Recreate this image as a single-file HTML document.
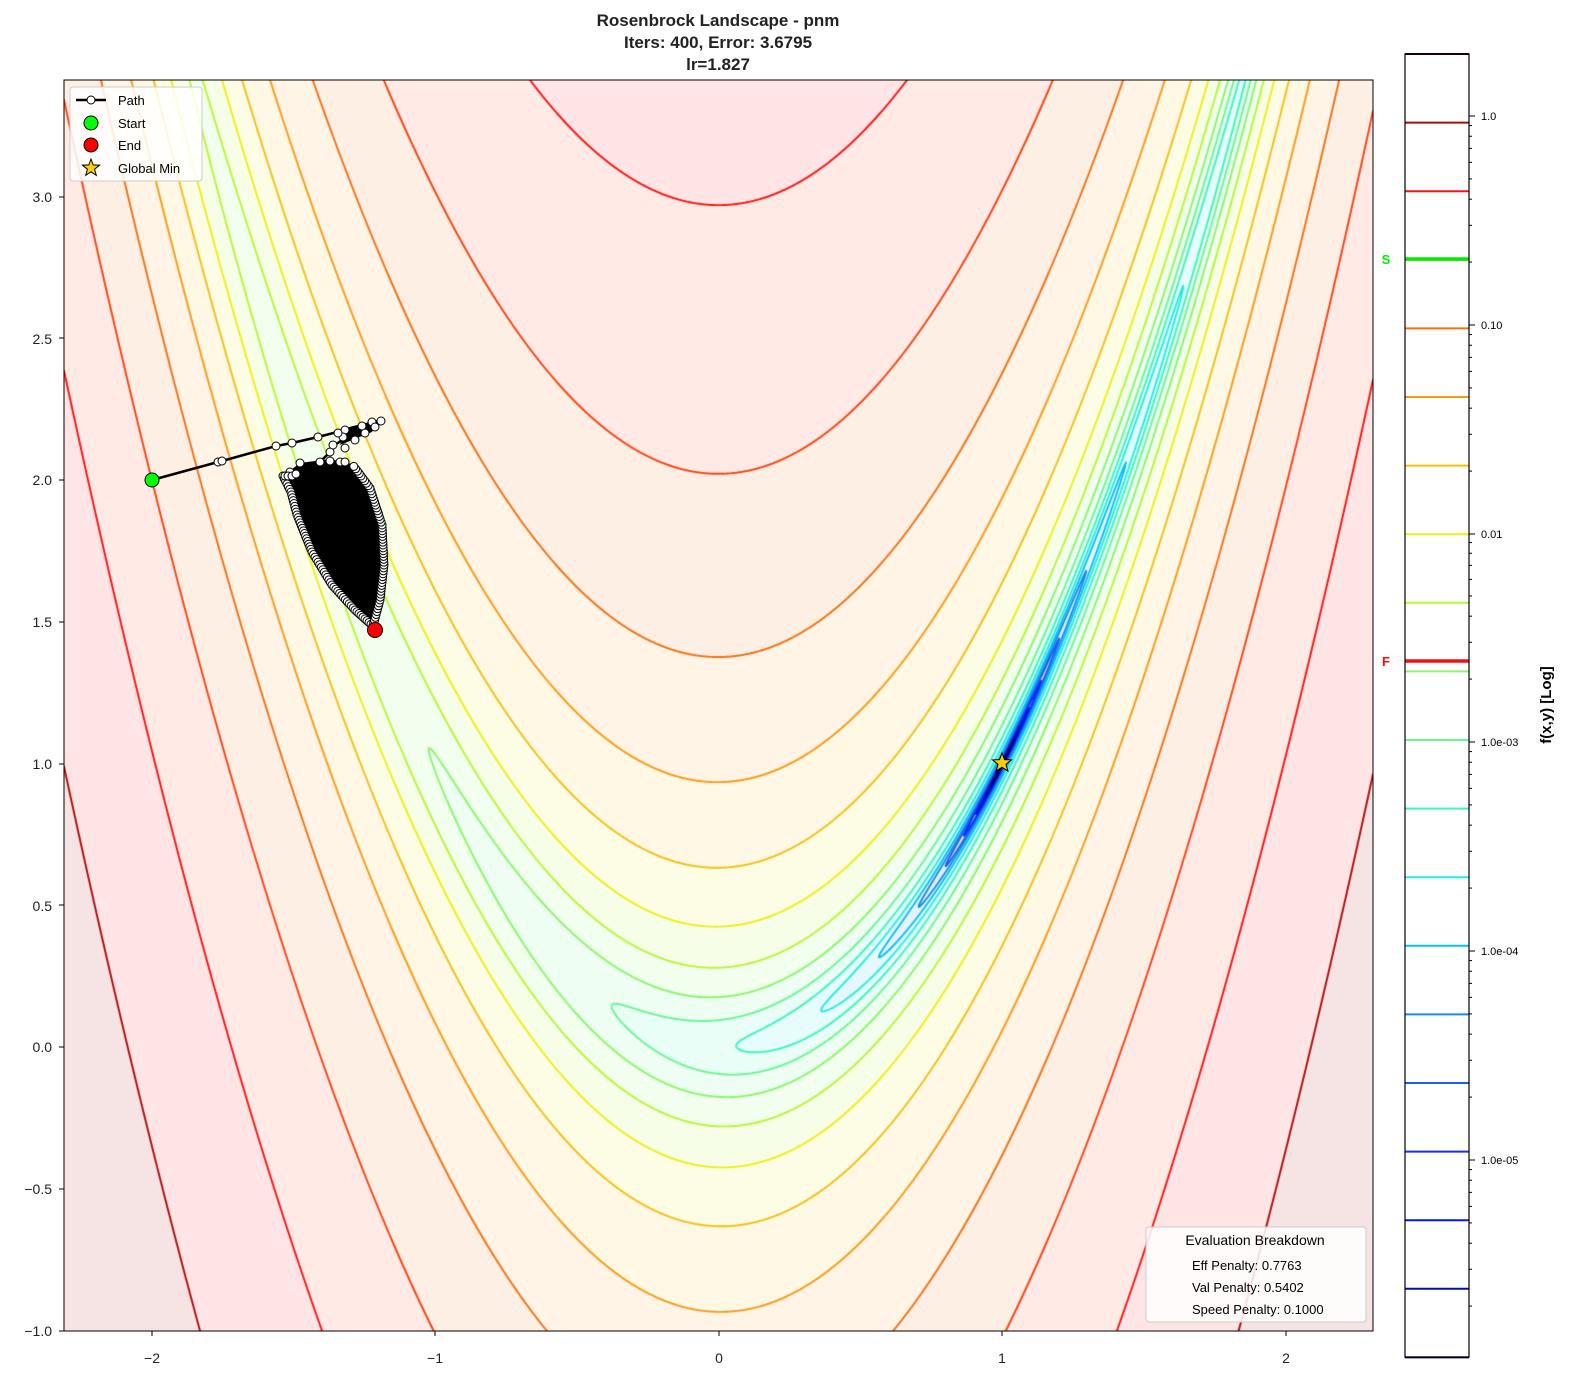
<!DOCTYPE html>
<html><head><meta charset="utf-8">
<style>
body{margin:0;background:#fff;width:1582px;height:1384px;overflow:hidden;position:relative;font-family:"Liberation Sans",sans-serif;}
#cv{position:absolute;left:64px;top:80px;}
svg{position:absolute;left:0;top:0;}
</style></head><body>
<canvas id="cv" width="1309" height="1251"></canvas>
<svg width="1582" height="1384" xmlns="http://www.w3.org/2000/svg" font-family="Liberation Sans, sans-serif">
<g font-weight="bold" font-size="17" fill="#222" text-anchor="middle">
<text x="718" y="26">Rosenbrock Landscape - pnm</text>
<text x="718" y="48">Iters: 400, Error: 3.6795</text>
<text x="718" y="70">lr=1.827</text>
</g>
<polyline points="152,480 218,462 222,461 276,446 292,443 318,437 345,430 365,425 372,422 381,421 362,430 345,438 335,445 330,452 322,460" fill="none" stroke="#000" stroke-width="2.5"/>
<path d="M283,476 L300,463 L330,459 L352,464 L370,488 L382,525 L384,565 L380,600 L376,628 L355,610 L332,585 L312,552 L297,515 L291,492 Z" fill="#000"/>
<path d="M345,428 L378,420 L372,432 L340,445 Z" fill="#000"/>
<g id="dots" fill="#fff" stroke="#000" stroke-width="1"></g>
<circle cx="152" cy="480" r="7" fill="#00ff00" stroke="#000" stroke-width="1"/>
<circle cx="375" cy="630" r="7.5" fill="#ff0000" stroke="#000" stroke-width="1"/>
<polygon id="star" fill="#ffcc00" stroke="#000" stroke-width="1"/>
<rect x="64" y="80" width="1309" height="1251" fill="none" stroke="#000" stroke-width="1"/>
<g id="ticks" stroke="#000" stroke-width="1"></g>
<g font-size="14" fill="#222" text-anchor="middle">
<text x="152" y="1363">−2</text><text x="435" y="1363">−1</text><text x="719" y="1363">0</text><text x="1002" y="1363">1</text><text x="1286" y="1363">2</text>
</g>
<g font-size="14" fill="#222" text-anchor="end">
<text x="52" y="202">3.0</text><text x="52" y="344">2.5</text><text x="52" y="485">2.0</text><text x="52" y="627">1.5</text><text x="52" y="769">1.0</text><text x="52" y="911">0.5</text><text x="52" y="1052">0.0</text><text x="52" y="1194">−0.5</text><text x="52" y="1336">−1.0</text>
</g>
<rect x="70" y="87" width="132" height="94" rx="3" fill="#fff" fill-opacity="0.85" stroke="#ccc"/>
<line x1="76" y1="100" x2="106" y2="100" stroke="#000" stroke-width="2.5"/>
<circle cx="91" cy="100" r="4" fill="#fff" stroke="#000"/>
<circle cx="91" cy="123" r="7" fill="#00ff00" stroke="#000"/>
<circle cx="91" cy="145" r="7" fill="#ff0000" stroke="#000"/>
<polygon id="lstar" fill="#ffcc00" stroke="#000" stroke-width="1"/>
<g font-size="13" fill="#000"><text x="118" y="105">Path</text><text x="118" y="128">Start</text><text x="118" y="150">End</text><text x="118" y="173">Global Min</text></g>
<rect x="1146" y="1227" width="220" height="95" rx="3" fill="#fff" fill-opacity="0.85" stroke="#ccc"/>
<text x="1255" y="1245" font-size="14" text-anchor="middle" fill="#000">Evaluation Breakdown</text>
<g font-size="13" fill="#000"><text x="1192" y="1270">Eff Penalty: 0.7763</text><text x="1192" y="1292">Val Penalty: 0.5402</text><text x="1192" y="1314">Speed Penalty: 0.1000</text></g>
<g id="cb"></g>
<rect x="1405" y="54" width="64" height="1303" fill="none" stroke="#000" stroke-width="1.2"/>
<g font-size="11" fill="#000">
<text x="1481" y="120">1.0</text><text x="1481" y="329">0.10</text><text x="1481" y="538">0.01</text><text x="1481" y="746">1.0e-03</text><text x="1481" y="955">1.0e-04</text><text x="1481" y="1164">1.0e-05</text>
</g>
<text x="1386" y="264" font-size="13" font-weight="bold" fill="#00ee00" text-anchor="middle">S</text>
<text x="1386" y="666" font-size="13" font-weight="bold" fill="#ee1111" text-anchor="middle">F</text>
<text transform="translate(1551,705) rotate(-90)" font-size="15" font-weight="bold" text-anchor="middle" fill="#000">f(x,y) [Log]</text>
</svg>
<script>
var cols=["#3a0000","#b00a0a","#ff1010","#ff4010","#f57010","#fc9a10","#f5c010","#eef010","#b8f830","#88f868","#68f890","#38f8b8","#20f0e0","#08c0f8","#1090f0","#1860f0","#1030ff","#0018e0","#0010b0","#000070"];
function rgb(h){return [parseInt(h.substr(1,2),16),parseInt(h.substr(3,2),16),parseInt(h.substr(5,2),16)];}
var L0=Math.log10(1902)+1/3;
var W=1309,H=1251;
function fx(px){return (px+64-719)/283.5;}
function fy(py){return (1047-(py+80))/283.5;}
var cv=document.getElementById('cv'),ctx=cv.getContext('2d');
var nx=W+1,ny=H+1,g=new Float32Array(nx*ny);
for(var j=0;j<ny;j++){var y=fy(j);for(var i=0;i<nx;i++){var x=fx(i);var f=(1-x)*(1-x)+100*(y-x*x)*(y-x*x);g[j*nx+i]=Math.log10(f+1e-9);}}
var img=ctx.createImageData(W,H),d=img.data;
var crgb=cols.map(rgb);
for(var j=0;j<H;j++)for(var i=0;i<W;i++){var v=g[j*nx+i];var k=Math.floor((L0-v)*3)+1;if(k<0)k=0;if(k>19)k=19;var c=crgb[k];var a=0.11;var p=(j*W+i)*4;d[p]=255*(1-a)+c[0]*a;d[p+1]=255*(1-a)+c[1]*a;d[p+2]=255*(1-a)+c[2]*a;d[p+3]=255;}
ctx.putImageData(img,0,0);
ctx.lineWidth=1.9;ctx.lineJoin='round';ctx.lineCap='round';
for(var k=0;k<20;k++){
var lv=L0-k/3;ctx.strokeStyle=cols[k];ctx.beginPath();
for(var j=0;j<ny-1;j++)for(var i=0;i<nx-1;i++){
var a=g[j*nx+i],b=g[j*nx+i+1],c=g[(j+1)*nx+i+1],e=g[(j+1)*nx+i];
var idx=(a>lv?1:0)|(b>lv?2:0)|(c>lv?4:0)|(e>lv?8:0);
if(idx==0||idx==15)continue;
var pts=[];
if((a>lv)!=(b>lv))pts.push([i+(lv-a)/(b-a),j]);
if((b>lv)!=(c>lv))pts.push([i+1,j+(lv-b)/(c-b)]);
if((e>lv)!=(c>lv))pts.push([i+(lv-e)/(c-e),j+1]);
if((a>lv)!=(e>lv))pts.push([i,j+(lv-a)/(e-a)]);
ctx.moveTo(pts[0][0],pts[0][1]);ctx.lineTo(pts[1][0],pts[1][1]);
if(pts.length==4){ctx.moveTo(pts[2][0],pts[2][1]);ctx.lineTo(pts[3][0],pts[3][1]);}
}
ctx.stroke();}
var NS="http://www.w3.org/2000/svg";
function el(t,at,par){var e=document.createElementNS(NS,t);for(var q in at)e.setAttribute(q,at[q]);par.appendChild(e);return e;}
var cb=document.getElementById('cb');
for(var k=0;k<20;k++){var yy=54+k*68.6;el('line',{x1:1405,x2:1469,y1:yy,y2:yy,stroke:cols[k],'stroke-width':2},cb);}
el('line',{x1:1405,x2:1469,y1:259,y2:259,stroke:'#00ee00','stroke-width':3.5},cb);
el('line',{x1:1405,x2:1469,y1:661,y2:661,stroke:'#ee1111','stroke-width':3.5},cb);
var tk=document.getElementById('ticks');
[116,325,534,742,951,1160].forEach(function(y0){el('line',{x1:1469,x2:1475,y1:y0,y2:y0},tk);
for(var m=2;m<10;m++){var yy=y0-209*Math.log10(m);if(yy>54)el('line',{x1:1469,x2:1472,y1:yy,y2:yy},tk);}
for(var m=2;m<10;m++){var yy=y0+209-209*Math.log10(m);if(yy<1357&&y0==1160)el('line',{x1:1469,x2:1472,y1:yy,y2:yy},tk);}});
[152,435,719,1002,1286].forEach(function(x){el('line',{x1:x,x2:x,y1:1331,y2:1336},tk);});
[197,338,480,622,764,905,1047,1189,1331].forEach(function(y){el('line',{x1:59,x2:64,y1:y,y2:y},tk);});
function star(cx,cy,R){var s=[];for(var q=0;q<10;q++){var r=q%2?R*0.42:R;var an=-Math.PI/2+q*Math.PI/5;s.push((cx+r*Math.cos(an)).toFixed(1)+','+(cy+r*Math.sin(an)).toFixed(1));}return s.join(' ');}
document.getElementById('star').setAttribute('points',star(1002,763,10));
document.getElementById('lstar').setAttribute('points',star(91,168,9));
var dg=document.getElementById('dots');
var dp=[[218,462],[222,461],[276,446],[292,443],[318,437],[345,430],[372,422],[381,421],[365,433],[355,440],[343,437],[345,448],[330,452],[338,433],[333,445],[375,427],[362,426],[300,463],[320,462],[330,461],[340,462],[345,462],[290,472]];
var outline=[[283,476],[291,492],[297,515],[312,552],[332,585],[355,610],[373,626],[380,600],[384,565],[382,525],[370,488],[352,464]];
for(var s=0;s<outline.length-1;s++){var A=outline[s],B=outline[s+1];var n=Math.ceil(Math.hypot(B[0]-A[0],B[1]-A[1])/3);for(var t=0;t<n;t++)dp.push([A[0]+(B[0]-A[0])*t/n,A[1]+(B[1]-A[1])*t/n]);}
[[285,476],[288,476],[292,476],[296,474]].forEach(function(p){dp.push(p);});
dp.forEach(function(p){el('circle',{cx:p[0],cy:p[1],r:4},dg);});
</script>
</body></html>
